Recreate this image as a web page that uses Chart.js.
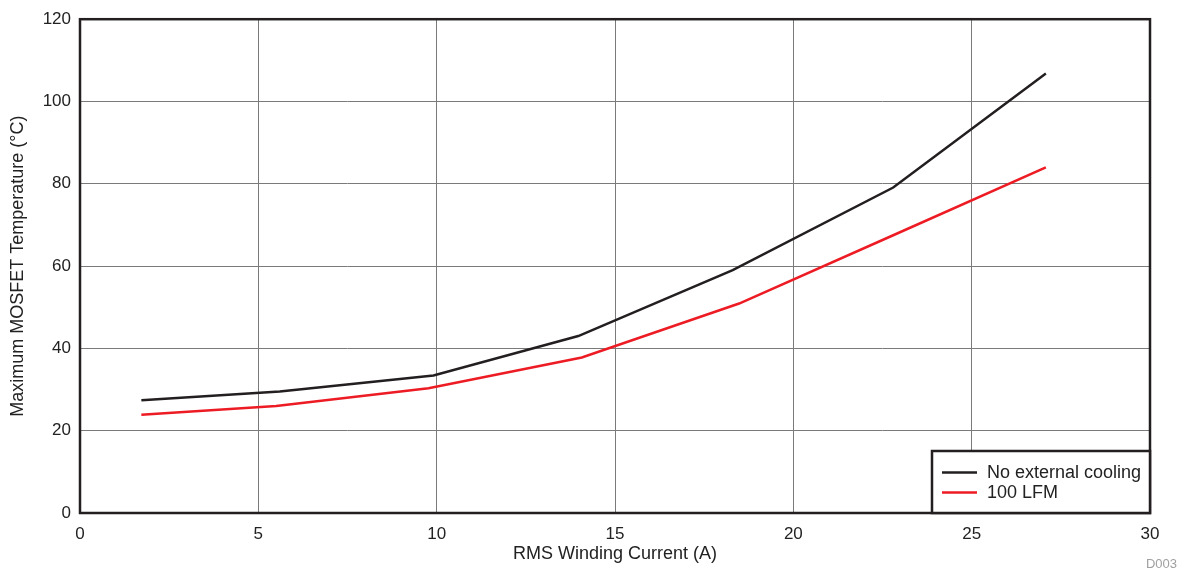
<!DOCTYPE html>
<html>
<head>
<meta charset="utf-8">
<script src="https://cdn.jsdelivr.net/npm/chart.js@4"></script>
<style>
html,body{margin:0;padding:0;background:#fff;}
#wrap{width:1181px;height:574px;position:relative;}
</style>
</head>
<body>
<div id="wrap"><canvas id="c" width="1181" height="574"></canvas></div>
<script>
const seriesNames = ["No external cooling", "100 LFM"];
const currentNoCooling = [1.72, 5.6, 9.91, 13.97, 18.3, 22.8, 27.08];
const tempNoCooling = [27.4, 29.5, 33.4, 43.0, 59.0, 79.1, 106.8];
const current100LFM = [1.72, 5.5, 9.77, 14.07, 18.48, 22.8, 27.08];
const temp100LFM = [23.9, 26.0, 30.3, 37.8, 50.9, 67.5, 84.0];
const xTitle = "RMS Winding Current (A)";
const yTitle = "Maximum MOSFET Temperature (°C)";
const footnote = "D003";

const FONT = "'Liberation Sans', Arial, sans-serif";
const BLACK = "#231f20";
const RED = "#ed1c24";

function pts(xs, ys){ return xs.map((x,i)=>({x:x,y:ys[i]})); }

const frame = {
  id:'frame',
  afterDatasetsDraw(chart){
    const {ctx, chartArea:a} = chart;
    ctx.save();
    ctx.strokeStyle = BLACK;
    ctx.lineWidth = 2.5;
    ctx.strokeRect(a.left, a.top, a.right-a.left, a.bottom-a.top);
    // legend box
    const lx = 932, ly = 451, lw = a.right - 932, lh = a.bottom - 451;
    ctx.fillStyle = '#fff';
    ctx.fillRect(lx, ly, lw, lh);
    ctx.lineWidth = 2.5;
    ctx.strokeRect(lx, ly, lw, lh);
    ctx.font = "18px " + FONT;
    ctx.textBaseline = 'middle';
    chart.data.datasets.forEach((ds,i)=>{
      const y = 472.5 + i*20;
      ctx.strokeStyle = ds.borderColor;
      ctx.lineWidth = 2.5;
      ctx.beginPath(); ctx.moveTo(942, y); ctx.lineTo(977, y); ctx.stroke();
      ctx.fillStyle = '#222';
      ctx.fillText(ds.label, 987, y+1);
    });
    ctx.font = "13px " + FONT;
    ctx.fillStyle = '#a0a0a0';
    ctx.textAlign = 'right';
    ctx.fillText(footnote, 1177, 564);
    ctx.restore();
  }
};

new Chart(document.getElementById('c'), {
  type:'line',
  data:{
    datasets:[
      {label:seriesNames[0], data:pts(currentNoCooling,tempNoCooling), borderColor:BLACK, borderWidth:2.5, pointRadius:0, tension:0, fill:false},
      {label:seriesNames[1], data:pts(current100LFM,temp100LFM), borderColor:RED, borderWidth:2.5, pointRadius:0, tension:0, fill:false}
    ]
  },
  options:{
    responsive:false,
    animation:false,
    layout:{padding:{top:19, right:31, left:0, bottom:0}},
    plugins:{legend:{display:false}, tooltip:{enabled:false}},
    scales:{
      x:{
        type:'linear', min:0, max:30,
        ticks:{stepSize:5, color:'#222', font:{family:FONT, size:17}, padding:11, maxRotation:0},
        grid:{color:'#7a7a7a', lineWidth:1, drawTicks:false},
        border:{display:false},
        title:{display:true, text:xTitle, color:'#222', font:{family:FONT, size:18}, padding:{top:4, bottom:9}},
        afterFit(s){ s.height = 61; }
      },
      y:{
        type:'linear', min:0, max:120,
        ticks:{stepSize:20, color:'#222', font:{family:FONT, size:17}, padding:9},
        grid:{color:'#7a7a7a', lineWidth:1, drawTicks:false},
        border:{display:false},
        title:{display:true, text:yTitle, color:'#222', font:{family:FONT, size:18}, padding:{top:7, bottom:4}},
        afterFit(s){ s.width = 80; }
      }
    }
  },
  plugins:[frame]
});
</script>
</body>
</html>
